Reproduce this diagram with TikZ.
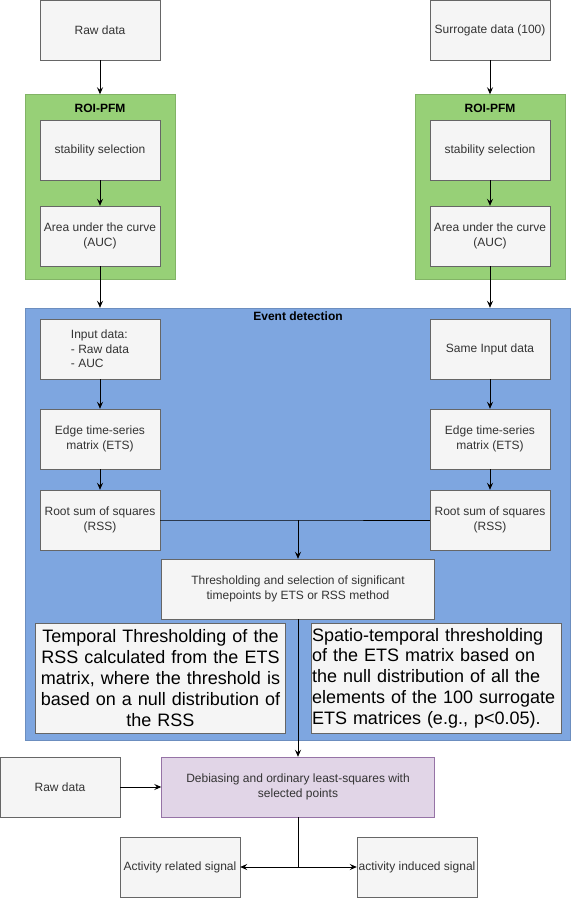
\documentclass[tikz,border=0pt]{standalone}
\usepackage{fontspec}
\setmainfont{Liberation Sans}
\usetikzlibrary{arrows.meta}
\definecolor{boxfill}{HTML}{F5F5F5}
\definecolor{boxline}{HTML}{666666}
\definecolor{boxtext}{HTML}{333333}
\definecolor{roigreen}{HTML}{97D077}
\definecolor{roiline}{HTML}{82B366}
\definecolor{evblue}{HTML}{7EA6E0}
\definecolor{evline}{HTML}{6C8EBF}
\definecolor{olsfill}{HTML}{E1D5E7}
\definecolor{olsline}{HTML}{9673A6}
\tikzset{
  box/.style={draw=boxline, fill=boxfill, text=boxtext, align=center,
    minimum width=120pt, minimum height=60pt, inner sep=1pt,
    font=\fontsize{12}{14.5}\selectfont},
  bigbox/.style={draw=boxline, fill=boxfill, text=black, text width=248pt,
    minimum height=110pt, inner sep=1pt, font=\fontsize{18}{20.8}\selectfont},
  roibox/.style={draw=roiline, fill=roigreen, minimum width=150pt, minimum height=185pt},
  title/.style={font=\bfseries\fontsize{12}{14}\selectfont, inner sep=0pt},
  flow/.style={-{Stealth[length=7pt,width=6pt,inset=2.5pt]}, line width=0.9pt},
  link/.style={line width=0.9pt}
}

\begin{document}
\begin{tikzpicture}[x=1pt,y=-1pt]
  \useasboundingbox (0,0) rectangle (571,898);

  % ROI-PFM, raw data (left) and surrogates (right)
  \node[roibox] (roiL) at (100,187) {};
  \node[roibox] (roiR) at (490,187) {};
  \node[title] (roiLtitle) at (100,108) {ROI-PFM};
  \node[title] (roiRtitle) at (490,108) {ROI-PFM};

  \node[box] (raw) at (100,30) {Raw data};
  \node[box] (surr) at (490,30) {Surrogate data (100)};
  \node[box] (stabL) at (100,150) {stability selection};
  \node[box] (stabR) at (490,150) {stability selection};
  \node[box] (aucL) at (100,236) {Area under the curve\\(AUC)};
  \node[box] (aucR) at (490,236) {Area under the curve\\(AUC)};

  % event detection
  \node[draw=evline, fill=evblue, minimum width=545pt, minimum height=432pt] (events) at (297.5,524) {};
  \node[title] (evtitle) at (298,316) {Event detection};

  \node[box, align=left] (inL) at (100,349) {Input data:\\- Raw data\\- AUC};
  \node[box] (inR) at (490,349) {Same Input data};
  \node[box] (etsL) at (100,439) {Edge time-series\\matrix (ETS)};
  \node[box] (etsR) at (490,439) {Edge time-series\\matrix (ETS)};
  \node[box] (rssL) at (100,520) {Root sum of squares\\(RSS)};
  \node[box] (rssR) at (490,520) {Root sum of squares\\(RSS)};
  \coordinate (rssjoin) at (298,520);

  \node[box, minimum width=273pt] (thresh) at (298,589)
    {Thresholding and selection of significant\\timepoints by ETS or RSS method};
  \node[bigbox, align=center] (temporal) at (160.5,678)
    {Temporal Thresholding of the\\RSS calculated from the ETS\\matrix, where the threshold is\\based on a null distribution of\\the RSS};
  \node[bigbox, align=left] (spatial) at (436,678)
    {Spatio-temporal thresholding\\of the ETS matrix based on\\the null distribution of all the\\elements of the 100 surrogate\\ETS matrices (e.g., p<0.05).};

  % estimation
  \node[box, draw=olsline, fill=olsfill, minimum width=273pt] (ols) at (298,787)
    {Debiasing and ordinary least-squares with\\selected points};
  \node[box] (rawB) at (60,787) {Raw data};
  \node[box] (related) at (180,867) {Activity related signal};
  \node[box] (induced) at (417,867) {activity induced signal};
  \coordinate (split) at (298,867);

  \draw[flow] (raw) -- (roiL.north);
  \draw[flow] (surr) -- (roiR.north);
  \draw[flow] (stabL) -- (aucL);
  \draw[flow] (stabR) -- (aucR);
  \draw[flow] (aucL) -- (aucL |- events.north);
  \draw[flow] (aucR) -- (aucR |- events.north);
  \draw[flow] (inL) -- (etsL);
  \draw[flow] (inR) -- (etsR);
  \draw[flow] (etsL) -- (rssL);
  \draw[flow] (etsR) -- (rssR);
  \draw[link] (rssL) -- (rssjoin) -- (rssR);
  \draw[flow] (rssjoin) -- (thresh);
  \draw[flow] (thresh) -- (ols);
  \draw[flow] (rawB) -- (ols);
  \draw[link] (ols) -- (split);
  \draw[flow] (split) -- (related);
  \draw[flow] (split) -- (induced);
\end{tikzpicture}
\end{document}
